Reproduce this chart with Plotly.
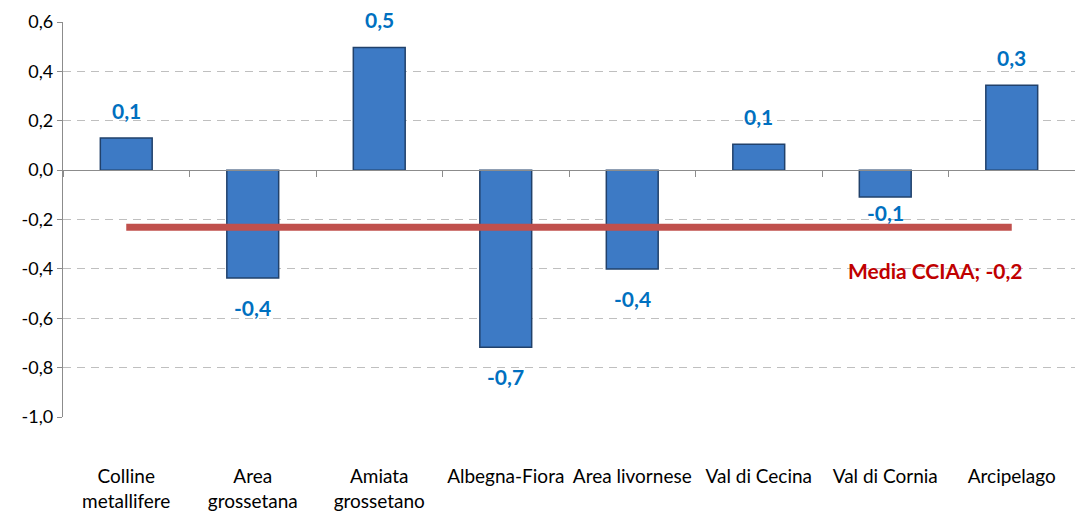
import plotly.graph_objects as go

categories = ["Colline<br>metallifere", "Area<br>grossetana", "Amiata<br>grossetano",
              "Albegna-Fiora", "Area livornese", "Val di Cecina", "Val di Cornia", "Arcipelago"]
values = [0.13, -0.437, 0.497, -0.717, -0.40, 0.105, -0.109, 0.344]
media_value = -0.231
media_label = "Media CCIAA"
y_tickvals = [0.6, 0.4, 0.2, 0.0, -0.2, -0.4, -0.6, -0.8, -1.0]
y_ticktext = ["0,6", "0,4", "0,2", "0,0", "-0,2", "-0,4", "-0,6", "-0,8", "-1,0"]


def fmt(v):
    return f"{v:.1f}".replace(".", ",")


FONT = "Lato, 'Open Sans', sans-serif"

fig = go.Figure()
fig.add_trace(go.Bar(
    x=categories, y=values,
    marker=dict(color="#3D7AC5", line=dict(color="#21416B", width=1.5)),
    hoverinfo="skip", showlegend=False,
))
fig.add_trace(go.Scatter(
    x=categories, y=[media_value] * len(categories),
    mode="lines", line=dict(color="#C0504D", width=7),
    hoverinfo="skip", showlegend=False, xaxis="x2",
))

# the label under the small negative bar sits closer to it in the reference
label_shift = {"Val di Cornia": -1}

for c, v in zip(categories, values):
    base = 13 if v >= 0 else -15
    fig.add_annotation(
        x=c, y=v, text=f"<b>{fmt(v)}</b>", showarrow=False,
        yanchor="bottom" if v >= 0 else "top",
        yshift=label_shift.get(c, base),
        font=dict(family=FONT, size=21, color="#0070C0"),
    )

fig.add_annotation(
    x=6.4, y=-0.405, xref="x", yref="y",
    text=f"<b>{media_label}; {fmt(media_value)}</b>", showarrow=False,
    font=dict(family=FONT, size=21, color="#C00000"),
)

fig.update_layout(
    width=1083, height=513,
    margin=dict(l=55, r=16, t=14, b=104, autoexpand=False),
    plot_bgcolor="white", paper_bgcolor="white",
    bargap=0.59,
    font=dict(family=FONT, size=19, color="#000000"),
    xaxis=dict(
        type="category", categoryorder="array", categoryarray=categories,
        range=[-0.5, 7.5], showgrid=False, zeroline=False, showline=False,
        ticks="", tickfont=dict(size=19, color="#000000"), fixedrange=True,
        automargin=False, ticklabelstandoff=46,
    ),
    xaxis2=dict(
        type="category", categoryorder="array", categoryarray=categories,
        range=[-0.5, 7.5], overlaying="x", anchor="free", position=0.625,
        side="bottom", showgrid=False, zeroline=False, showline=True,
        linecolor="#8C8C8C", linewidth=1.3, ticks="outside", tickson="boundaries",
        ticklen=6, tickcolor="#8C8C8C", showticklabels=False, automargin=False,
    ),
    yaxis=dict(
        range=[-1.0, 0.6], tickvals=y_tickvals, ticktext=y_ticktext,
        showgrid=True, gridcolor="#BFBFBF", griddash="8px,6px", gridwidth=1.3,
        zeroline=False, showline=True, linecolor="#8C8C8C", linewidth=1.3,
        ticks="outside", ticklen=5, tickcolor="#8C8C8C",
        tickfont=dict(size=18, color="#000000"), fixedrange=True, automargin=False,
    ),
)

fig.write_html("out.html")
